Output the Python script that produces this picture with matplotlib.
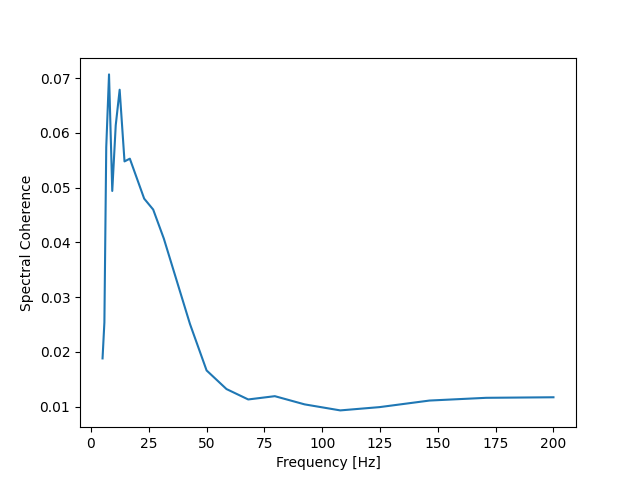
import matplotlib
matplotlib.use("Agg")
import matplotlib.pyplot as plt

freqs = [5.0, 5.8, 6.6, 7.8, 9.2, 10.7, 12.4, 14.5, 16.8, 23.0, 26.9, 31.5,
         42.8, 50.0, 58.6, 68.0, 79.5, 92.4, 107.8, 124.8, 146.4, 170.9, 200.0]
coherence = [0.0188, 0.0254, 0.0574, 0.0707, 0.0494, 0.0614, 0.0679, 0.0548,
             0.0553, 0.0480, 0.0460, 0.0407, 0.0251, 0.0166, 0.0132, 0.0113,
             0.0119, 0.0104, 0.0093, 0.0099, 0.0111, 0.0116, 0.0117]

fig, ax = plt.subplots(figsize=(6.4, 4.8), dpi=100)
ax.plot(freqs, coherence)
ax.set_xlabel("Frequency [Hz]")
ax.set_ylabel("Spectral Coherence")
fig.savefig("out.png")
